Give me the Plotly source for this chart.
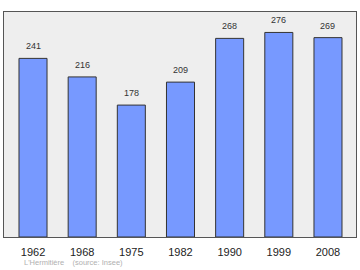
import plotly.graph_objects as go

years = ["1962", "1968", "1975", "1982", "1990", "1999", "2008"]
population = [241, 216, 178, 209, 268, 276, 269]
footer_place = "L'Hermitière"
footer_source = "(source: Insee)"

fig = go.Figure()
fig.add_trace(go.Bar(
    x=list(range(len(years))), y=population, width=0.57,
    marker=dict(color="#7799ff", line=dict(color="#333333", width=1)),
    hoverinfo="skip",
))
for i, v in enumerate(population):
    fig.add_annotation(x=i, y=v, text=str(v), showarrow=False, yanchor="bottom",
                       yshift=5, font=dict(family="Liberation Sans, Arial", size=9, color="#333333"))

fig.add_annotation(xref="paper", yref="paper", x=0.05, y=-0.113, xanchor="left", yanchor="middle",
                   text=footer_place + "    " + footer_source, showarrow=False,
                   font=dict(family="Liberation Sans, Arial", size=7.5, color="#b0b0b0"))

fig.update_layout(
    width=360, height=270,
    margin=dict(l=4, r=4, t=12, b=33),
    paper_bgcolor="white", plot_bgcolor="#eeeeee",
    showlegend=False,
    xaxis=dict(range=[-0.59, 6.57], tickmode="array", tickvals=list(range(len(years))),
               ticktext=years, showgrid=False, zeroline=False, ticks="", ticklen=0,
               ticklabelstandoff=5,
               showline=True, linecolor="#555555", linewidth=1, mirror=True,
               tickfont=dict(family="Liberation Sans, Arial", size=11, color="#222222")),
    yaxis=dict(range=[0, 303.6], showgrid=False, zeroline=False, showticklabels=False,
               showline=True, linecolor="#555555", linewidth=1, mirror=True),
)
fig.write_html("out.html")
